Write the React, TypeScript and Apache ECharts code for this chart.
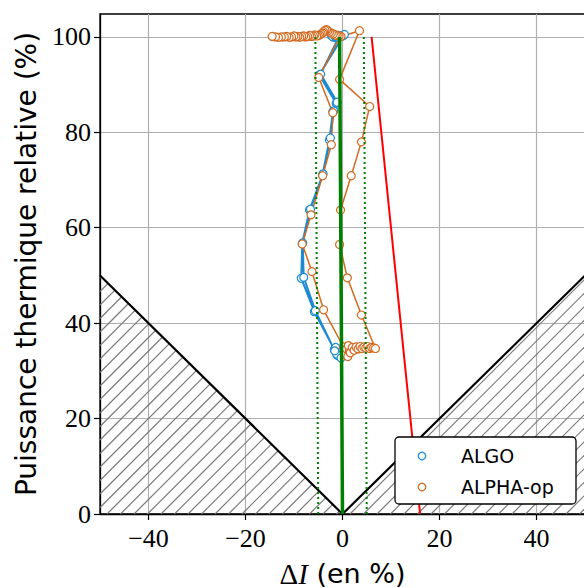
import React, { useEffect, useRef } from "react";
import * as echarts from "echarts";

// ---- data ----
const xTicks = [-40, -20, 0, 20, 40];
const yTicks = [0, 20, 40, 60, 80, 100];

// ALGO trajectory (ΔI %, relative thermal power %)
const algoDI = [0.2, -4.8, -1.3, -2.0, -2.7, -4.1, -6.8, -8.3, -8.5, -5.8, -1.7, -1.0, -1.4, -0.6, -1.2, -0.3, -1.6, -5.6, -8.0, -8.2, -6.6, -4.0, -2.5, -1.8, -1.1, -4.5, -0.8, -1.2, -1.6, -2.0, -2.3, -2.0, -1.6, -1.2, -0.8, -0.4, 0.0, 0.4];
const algoP = [100.3, 92.0, 86.1, 84.3, 78.4, 71.1, 63.7, 56.7, 49.4, 42.4, 34.5, 33.2, 34.9, 33.8, 33.5, 32.7, 34.2, 42.6, 49.6, 56.8, 63.9, 71.3, 78.8, 84.5, 86.3, 92.2, 99.9, 100.2, 99.9, 100.1, 100.3, 100.0, 100.2, 100.0, 100.3, 100.1, 100.2, 100.5];

// ALPHA-op trajectory
const alphaDI = [
  -0.5, -4.9, -2.0, -2.3, -4.1, -6.5, -8.3, -6.3, -3.9,
  0.2, 0.5, 0.8, 1.1, 1.4, 1.2, 1.6, 2.0, 2.4, 2.8, 3.2, 3.6, 4.0, 4.4, 4.8, 5.2, 5.6, 6.0, 6.4, 6.8,
  3.9, 1.0, -0.6, -0.4, 1.8, 3.9, 5.6, -0.6, 3.5,
  -0.3, -0.7, -1.1, -1.5, -1.9, -2.3, -2.7, -3.0, -3.3, -3.6, -3.9, -4.1, -4.4, -4.7, -5.0, -5.3, -5.7, -6.0,
  -6.4, -6.8, -7.2, -7.6, -8.0, -8.4, -8.8, -9.2, -9.6, -10.0, -10.5, -11.0, -11.5, -12.0, -12.6, -13.2, -13.8, -14.5,
];
const alphaP = [
  100.1, 91.5, 84.1, 77.4, 70.9, 62.7, 56.6, 50.8, 42.8,
  35.0, 33.4, 34.6, 33.0, 34.2, 35.3, 33.8, 34.9, 34.3, 35.0, 34.6, 35.1, 34.7, 35.0, 34.8, 35.1, 34.7, 34.9, 34.8, 34.7,
  41.7, 49.5, 56.5, 63.7, 70.9, 78.0, 85.4, 91.1, 101.3,
  100.1, 100.2, 100.3, 100.4, 100.6, 100.8, 101.0, 101.3, 101.5, 101.4, 101.1, 100.8, 100.6, 100.4, 100.3, 100.2, 100.4, 100.2,
  100.1, 100.3, 100.1, 100.0, 100.2, 100.1, 99.9, 100.1, 100.0, 100.2, 100.0, 99.9, 100.1, 100.0, 100.0, 99.9, 100.0, 100.1,
];

// reference lines
const centerDI = [0, -0.6];
const centerP = [0, 100];
const lowBandDI = [-5, -5.6];
const highBandDI = [5, 4.4];
const bandP = [0, 100];
const limitDI = [6, 16];
const limitP = [100, 0];
const vDI = [-50, 0, 50];
const vP = [50, 0, 50];

// forbidden zones (hatched triangles)
const zoneLeftDI = [-50, -50, 0];
const zoneLeftP = [0, 50, 0];
const zoneRightDI = [0, 50, 50];
const zoneRightP = [0, 50, 0];

const BLUE = "#1b8ad2";
const ORANGE = "#d2691e";
const GREEN = "#008000";

const zip = (a: number[], b: number[]) => a.map((v, i) => [v, b[i]]);
const fmtMinus = (v: number) => String(v).replace("-", "\u2212");

export default function App() {
  const ref = useRef<HTMLDivElement>(null);
  useEffect(() => {
    if (!ref.current) return;
    const chart = echarts.init(ref.current, undefined, { renderer: "svg" });
    const zones = [zip(zoneLeftDI, zoneLeftP), zip(zoneRightDI, zoneRightP)];

    const markerSeries = (name: string, xs: number[], ys: number[], color: string, lw: number) => ({
      name,
      type: "line",
      data: zip(xs, ys),
      symbol: "circle",
      symbolSize: 8,
      showSymbol: true,
      showAllSymbol: true,
      lineStyle: { color, width: lw },
      itemStyle: { color: "#fff", borderColor: color, borderWidth: 1.2 },
      emphasis: { disabled: true },
      z: 3,
    });
    const plainLine = (xs: number[], ys: number[], color: string, width: number, type: any = "solid", z = 4) => ({
      type: "line",
      data: zip(xs, ys),
      symbol: "none",
      lineStyle: { color, width, type },
      emphasis: { disabled: true },
      silent: true,
      z,
    });

    const option: any = {
      animation: false,
      grid: {
        left: 100,
        top: 14,
        width: 485,
        height: 500,
        show: true,
        borderColor: "#000",
        borderWidth: 1.3,
        backgroundColor: "transparent",
        outerBoundsMode: "none",
        containLabel: false,
      },
      xAxis: {
        type: "value",
        min: -50,
        max: 50,
        axisLine: { show: true, onZero: false, lineStyle: { color: "#000", width: 1.3 } },
        axisTick: { show: true, length: 6, customValues: xTicks, lineStyle: { color: "#000", width: 1.2 } },
        axisLabel: {
          customValues: xTicks,
          formatter: fmtMinus,
          fontFamily: "Liberation Serif",
          fontSize: 26,
          color: "#000",
          margin: 11,
        },
        splitLine: { show: true, lineStyle: { color: "#b0b0b0", width: 1.2 } },
        name: "{d|\u0394}{i|I}{s| (en %)}",
        nameLocation: "middle",
        nameGap: 45,
        nameTextStyle: {
          rich: {
            d: { fontFamily: "Liberation Serif", fontSize: 29, color: "#000" },
            i: { fontFamily: "Liberation Serif", fontStyle: "italic", fontSize: 29, color: "#000" },
            s: { fontFamily: "DejaVu Sans", fontSize: 27, color: "#000" },
          },
        },
      },
      yAxis: {
        type: "value",
        min: 0,
        max: 104.8,
        axisLine: { show: true, onZero: false, lineStyle: { color: "#000", width: 1.3 } },
        axisTick: { show: true, length: 6, customValues: yTicks, lineStyle: { color: "#000", width: 1.2 } },
        axisLabel: {
          customValues: yTicks,
          formatter: fmtMinus,
          fontFamily: "Liberation Serif",
          fontSize: 26,
          color: "#000",
          margin: 9,
        },
        splitLine: { show: true, lineStyle: { color: "#b0b0b0", width: 1.2 } },
        name: "Puissance thermique relative (%)",
        nameLocation: "middle",
        nameRotate: 90,
        nameGap: 60,
        nameTextStyle: { fontFamily: "DejaVu Sans", fontSize: 28, color: "#000" },
      },
      series: [
        {
          type: "custom",
          silent: true,
          z: 1,
          data: zones.map((_, i) => [i, 0]),
          encode: { x: 0, y: 1 },
          renderItem: (params: any, api: any) => {
            const zone = zones[api.value(0)];
            const pts = zone.map((p) => api.coord(p));
            const sums = pts.map((p: number[]) => p[0] + p[1]);
            const lo = Math.min(...sums);
            const hi = Math.max(...sums);
            const step = 13.5;
            const children: any[] = [];
            for (let c = Math.ceil(lo / step) * step; c <= hi; c += step) {
              const hits: number[][] = [];
              for (let k = 0; k < pts.length; k++) {
                const a = pts[k];
                const b = pts[(k + 1) % pts.length];
                const fa = a[0] + a[1] - c;
                const fb = b[0] + b[1] - c;
                if ((fa <= 0 && fb > 0) || (fa > 0 && fb <= 0)) {
                  const t = fa / (fa - fb);
                  hits.push([a[0] + t * (b[0] - a[0]), a[1] + t * (b[1] - a[1])]);
                }
              }
              if (hits.length >= 2) {
                children.push({
                  type: "line",
                  shape: { x1: hits[0][0], y1: hits[0][1], x2: hits[1][0], y2: hits[1][1] },
                  style: { stroke: "#7a7a7a", lineWidth: 1.2 },
                });
              }
            }
            return { type: "group", children };
          },
        },
        plainLine(vDI, vP, "#000", 2.2, "solid", 2),
        markerSeries("ALGO", algoDI, algoP, BLUE, 2),
        markerSeries("ALPHA-op", alphaDI, alphaP, ORANGE, 1.5),
        plainLine(centerDI, centerP, GREEN, 3.5),
        plainLine(lowBandDI, bandP, GREEN, 2, [2, 3]),
        plainLine(highBandDI, bandP, GREEN, 2, [2, 3]),
        plainLine(limitDI, limitP, "#ff0000", 2),
      ],
      graphic: [
        {
          type: "rect",
          z: 100,
          zlevel: 0,
          shape: { x: 395, y: 437, width: 181, height: 67, r: 4 },
          style: { fill: "#fff", stroke: "#000", lineWidth: 1.3 },
        },
        { type: "circle", z: 101, shape: { cx: 422, cy: 456, r: 3.8 }, style: { fill: "#fff", stroke: BLUE, lineWidth: 1.2 } },
        { type: "circle", z: 101, shape: { cx: 422, cy: 487, r: 3.8 }, style: { fill: "#fff", stroke: ORANGE, lineWidth: 1.2 } },
        {
          type: "text",
          z: 101,
          x: 461,
          y: 456,
          style: { text: "ALGO", fill: "#000", font: '19px "DejaVu Sans"', verticalAlign: "middle", align: "left" },
        },
        {
          type: "text",
          z: 101,
          x: 461,
          y: 487,
          style: { text: "ALPHA-op", fill: "#000", font: '19px "DejaVu Sans"', verticalAlign: "middle", align: "left" },
        },
      ],
    };
    chart.setOption(option);
    return () => chart.dispose();
  }, []);
  return (
    <div
      ref={ref}
      style={{ position: "fixed", left: 0, top: 0, width: 584, height: 588, background: "#fff" }}
    />
  );
}
